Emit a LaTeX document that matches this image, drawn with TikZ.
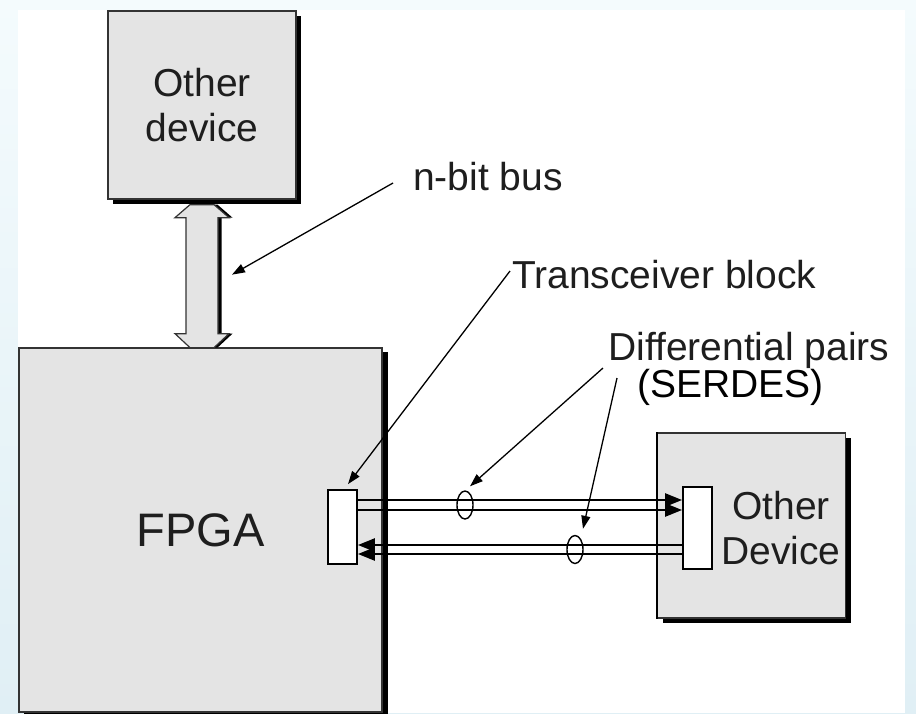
\documentclass[tikz,border=0pt]{standalone}
\usepackage{fontspec}
\setmainfont{Liberation Sans}
\usepackage{xcolor}
\usepackage{tikz}
\usetikzlibrary{arrows.meta,shapes.geometric,shadows,calc}
\definecolor{boxgray}{HTML}{E4E4E4}
\definecolor{labelgray}{HTML}{1E1E1E}
\definecolor{edgeblue}{HTML}{E0EFF5}
\definecolor{paleblue}{HTML}{F4FBFD}

\begin{document}
\begin{tikzpicture}[x=1pt,y=-1pt,
    devbox/.style={draw=black!80, line width=1.3pt, fill=boxgray, inner sep=0pt,
      drop shadow={shadow xshift=5pt, shadow yshift=-5pt, fill=black, opacity=1}},
    xcvr/.style={draw=black, line width=1.8pt, fill=white, inner sep=0pt, minimum width=29pt},
    wire/.style={line width=2.4pt},
    ring/.style={ellipse, draw=black, line width=1.4pt, inner sep=0pt,
      minimum width=16pt, minimum height=28pt},
    leader/.style={line width=1.3pt, -{Triangle[length=13pt,width=9pt]}},
    txt/.style={text=labelgray, font=\fontsize{39}{45}\selectfont, inner sep=0pt, align=center}]
    \useasboundingbox (0,0) rectangle (916,713);
    \shade[top color=paleblue, bottom color=edgeblue] (0,0) rectangle (916,713);
    \fill[white] (18,10) rectangle (905,713);

    % devices
    \node[devbox, txt, minimum width=188pt, minimum height=188pt] (topdev) at (202,105) {Other\\device};
    \node[devbox, minimum width=363pt, minimum height=364pt, text=labelgray,
          font=\fontsize{47}{50}\selectfont] (fpga) at (200.5,530) {FPGA};
    \node[devbox, minimum width=188pt, minimum height=185pt] (odev) at (751.5,525.5) {};
    \node[txt] (odevtxt) at (781,528) {Other\\Device};

    % n-bit bus
    \begin{scope}[shift={(topdev.south)}]
      \fill[black, shift={(3.5,0)}] (-12,5) -- (-27,18) -- (-16,18) -- (-16,134) -- (-27,134) -- (-12,148)
        -- (12,148) -- (27,134) -- (16,134) -- (16,18) -- (27,18) -- (12,5) -- cycle;
      \filldraw[fill=boxgray, draw=black!80, line width=1.2pt] (-12,5) -- (-27,18) -- (-16,18) -- (-16,134)
        -- (-27,134) -- (-12,148) -- (12,148) -- (27,134) -- (16,134) -- (16,18) -- (27,18) -- (12,5) -- cycle;
      \coordinate (bushit) at (30,75);
    \end{scope}

    % transceivers and pairs
    \node[xcvr, minimum height=74pt] (tx) at (342.5,527) {};
    \node[xcvr, minimum height=82pt] (rx) at (697.5,528) {};
    \foreach \y in {500,510}
      \draw[wire, -{Triangle[length=17pt,width=13pt]}] (tx.east |- 0,\y) -- (rx.west |- 0,\y);
    \foreach \y in {545,554}
      \draw[wire, -{Triangle[length=17pt,width=13pt]}] (rx.west |- 0,\y) -- (tx.east |- 0,\y);
    \fill[black] ([xshift=0.6pt,yshift=-5pt]fpga.north east) rectangle ([xshift=5pt,yshift=-5pt]fpga.south east);
    \draw[line width=1.8pt] (odev.north west) -- (odev.south west);
    \node[ring] (ring1) at (465,505) {};
    \node[ring] (ring2) at (575,549.5) {};

    % labels
    \node[txt, anchor=west] (nbit) at (413,177) {n-bit bus};
    \node[txt, anchor=west] (xlabel) at (512,275) {Transceiver block};
    \node[txt, anchor=west] (dplabel) at (608,350) {Differential pairs};
    \node[txt, anchor=west, text=black] (serdes) at (637,387) {(SERDES)};

    \draw[leader] ($(nbit.west)+(-20,6)$) -- (bushit);
    \draw[leader] ($(xlabel.west)+(-2,-4)$) -- ([xshift=5.5pt,yshift=5pt]tx.north);
    \draw[leader] ($(dplabel.west)+(-5,18)$) -- ([xshift=5pt,yshift=4pt]ring1.north);
    \draw[leader] ($(dplabel.west)+(9,28)$) -- ([xshift=8pt,yshift=6pt]ring2.north);
  \end{tikzpicture}
\end{document}
